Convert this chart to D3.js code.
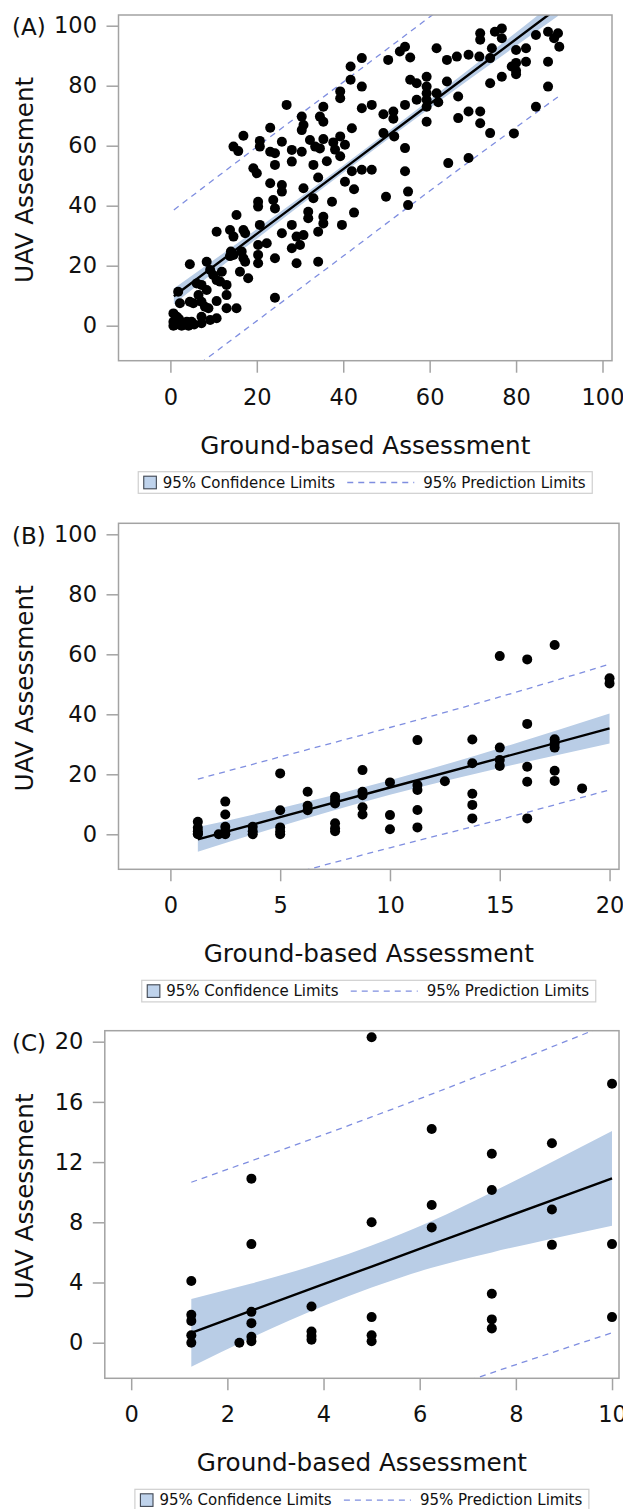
<!DOCTYPE html>
<html>
<head>
<meta charset="utf-8">
<script src="https://cdn.jsdelivr.net/npm/d3@7"></script>
<style>
  body { margin: 0; background: #fff; }
  svg text { font-family: "DejaVu Sans", sans-serif; fill: #111; }
</style>
</head>
<body>
<script>
// ---- panel A: all plots ----
const pointsA = [
  [71.7,97.5],[71.7,95.3],[75.1,98],[76.7,99.1],[76.7,95.8],[74.4,92.5],[61.6,92.5],[54.3,93],[53.1,91.4],
  [55.5,89.4],[50.4,88.6],[44.3,89.2],[41.7,86.4],[41.7,82],[44.3,79.7],[39.3,78.1],[39.3,75.8],[35.4,73],
  [35.4,68],[44.3,72.5],[46.6,73.6],[49.3,70.5],[51.6,71.4],[51.6,69],[54.3,73.6],[55.5,82],[57,80.8],
  [59.3,83],[59.3,79.7],[59.3,77.5],[59.3,75.3],[59.3,73],[59.3,68],[57,75.3],[61.6,77.5],[62,74.5],
  [64,81.4],[64,88.6],[66.3,89.7],[69,90.3],[71.5,89.7],[74,89.2],[79,86.4],[76.7,83],[74,80.8],
  [66.6,76.4],[66.6,69.2],[69,71.4],[71.7,71.4],[71.7,67.5],[74,64.2],[79.5,64.1],[64.3,54.2],[69,55.9],
  [49.3,64.2],[51.8,63.1],[54.3,59.2],[39.3,63.1],[40.4,60.3],[42,65.8],[37.7,61.1],[38.1,58.7],
  [39.3,56.5],[35.4,62.2],[42,51.5],[44.3,52],[46.6,52],[54.3,51.5],[36.2,54.8],
  [80,91.9],[82.3,92.5],[80,87.6],[80,85],[80,83.8],[82.3,88],[84.6,96.9],[87.4,98],[89.7,97.5],
  [88.8,95.8],[90,93],[87.4,88],[87.4,79.7],[84.6,73],
  [26.9,73.6],[16.9,63.3],[14.6,59.7],[15.7,58.2],[23.1,66],[20.7,61.6],[20.7,59.7],[25.8,61.3],
  [23.1,58],[24.2,57.5],[24.2,53.6],[28.1,58.6],[28.1,54.7],[30.4,69.7],[30.8,66.9],[30.4,65.2],
  [30.4,58],[32.3,61.9],[33.5,59.7],[34.6,59.1],[34.6,69.7],[33.1,53.6],[19.2,52.5],[20,50.8],[34.2,49.4],
  [23.1,47.5],[25.8,46.9],[25.8,44.7],[23.8,41.9],[20.3,41.3],[20.3,39.7],[24.2,39.1],[30.8,45.8],
  [33.1,42.5],[31.9,38],[31.9,35.8],[35.4,36.3],[35.4,34.1],[34.2,31.3],[34.2,21.3],[28.1,33.6],
  [25.8,30.8],[29.2,29.7],[30.8,30.2],[30,26.9],[28.1,25.8],[29.2,20.8],[20.7,33.6],[15.3,36.9],
  [16.9,31.9],[17.3,30.8],[13.8,31.9],[10.7,31.3],[14.6,29.7],[14,24.7],[14.6,23.6],[13.8,23.2],
  [16.5,24.7],[16.9,22.5],[17.3,21.3],[20.3,26.9],[22.3,27.5],[20.3,23.6],[20.3,20.8],[24.2,22.5],
  [16.1,18],[18,15.8],[4.5,20.5],[8.4,21.3],[9.2,18.6],[9.9,16.9],[11.9,18],[10.7,15.2],[11.5,14.7],
  [13,13.6],[6.1,14.1],[7.2,13.6],[8.4,11.9],[1.8,11.3],[2.2,7.5],[4.5,8],[5.3,7.5],[6.5,10.2],[7.2,8],
  [8,6.3],[10.7,8.2],[8.8,5.8],[13,10.2],[13,5.8],[15.3,5.8],[24.2,9.3],
  [0.7,4.1],[0.7,1.3],[2.2,1.3],[3.8,1.3],[4.9,1.3],[0.7,0],[2.6,0],[4.2,0],[7.2,3],[7.2,0.8],
  [9.2,1.9],[10.7,2.5],[1.5,3],[1.2,0.3],[3.2,0.6],[5.5,0.4],[2,2.2],
  [39.7,33.6],[42.5,37.7],[49.9,43],[55,44.7],[55,40.2],[37.4,41.3],[42.5,45.5],[40.4,48]
];
const fitAx = [0.8, 20, 40, 60, 89.7];
const fitAy = [9.8, 30.6, 52.2, 73.9, 106.0];
const clAlo = [7.2, 29.0, 51.0, 72.5, 103.2];
const clAhi = [12.4, 32.2, 53.4, 75.3, 108.8];
const plAlo = [-19.2, 1.6, 23.2, 44.9, 76.3];
const plAhi = [38.6, 59.6, 81.2, 102.9, 135.0];

// ---- panel B ----
const pointsB = [
  [1.25,4.2],[1.25,2.2],[1.25,1],[1.25,0.3],[1.25,0],
  [2.2,0],[2.5,10.9],[2.5,6.6],[2.5,2.5],[2.5,0.9],[2.5,0],
  [3.75,2.5],[3.75,1],[3.75,0],
  [5,20.3],[5,8],[5,2.3],[5,0.9],[5,0],
  [6.25,14.2],[6.25,9.5],[6.25,8],
  [7.5,12.5],[7.5,11.4],[7.5,10.3],[7.5,3.7],[7.5,2],[7.5,1],
  [8.75,21.4],[8.75,14.2],[8.75,13],[8.75,9],[8.75,6.6],
  [10,17.3],[10,6.4],[10,1.7],
  [11.25,31.4],[11.25,16.4],[11.25,14.8],[11.25,8.1],[11.25,2.3],
  [12.5,17.7],
  [13.75,31.6],[13.75,23.7],[13.75,13.5],[13.75,9.8],[13.75,5.3],
  [15,59.4],[15,28.9],[15,24.8],[15,22.8],
  [16.25,58.3],[16.25,36.8],[16.25,22.5],[16.25,17.5],[16.25,5.3],
  [17.5,63.1],[17.5,31.7],[17.5,30.3],[17.5,28.9],[17.5,21.2],[17.5,17.8],
  [18.75,15.3],
  [20,52],[20,50.3]
];
const fitBx = [1.25, 5, 10, 15, 20];
const fitBy = [-1.7, 5.7, 15.6, 25.4, 35.3];
const clBlo = [-5.8, 2.7, 13.2, 22.1, 30.3];
const clBhi = [2.4, 8.7, 18.0, 28.7, 40.3];
const plBlo = [-22.3, -14.3, -4.5, 4.9, 14.8];
const plBhi = [18.4, 25.8, 35.6, 45.8, 56.7];

// ---- panel C ----
const pointsC = [
  [5,20.3],[10,17.2],[6.25,14.2],[8.75,13.25],[7.5,12.55],[2.5,10.9],[7.5,10.15],[6.25,9.15],
  [8.75,8.85],[5,8],[6.25,7.65],[2.5,6.55],[8.75,6.5],[10,6.55],[1.25,4.1],[7.5,3.25],[3.75,2.4],
  [2.5,2.05],[1.25,1.85],[1.25,1.45],[5,1.7],[10,1.7],[7.5,1.55],[2.5,1.3],[7.5,0.95],[3.75,0.75],
  [3.75,0.45],[3.75,0.2],[1.25,0.5],[1.25,0],[2.25,0],[2.5,0.4],[2.5,0.1],[5,0.5],[5,0.1]
];
const fitCx = [1.25, 2.5, 4, 5, 6.25, 7.5, 8.75, 10];
const fitCy = [0.66, 2.13, 3.89, 5.06, 6.53, 8.0, 9.46, 10.92];
const clClo = [-1.59, 0.33, 2.44, 3.66, 4.98, 6.0, 6.91, 7.77];
const clChi = [2.91, 3.93, 5.34, 6.46, 8.08, 10.0, 12.01, 14.07];
const plCx = [1.25, 5, 10];
const plClo = [-9.4, -4.8, 0.66];
const plChi = [10.66, 15.0, 21.25];

const ticksA = [0, 20, 40, 60, 80, 100];
const ticksBx = [0, 5, 10, 15, 20];
const ticksCx = [0, 2, 4, 6, 8, 10];
const ticksCy = [0, 4, 8, 12, 16, 20];

const xTitle = 'Ground-based Assessment';
const yTitle = 'UAV Assessment';
const legendCL = '95% Confidence Limits';
const legendPL = '95% Prediction Limits';

const bandFill = '#b9cde6';
const dashColor = '#7f8ee0';
const frameColor = '#a3a3a3';

const svg = d3.select('body').append('svg')
  .attr('width', 623)
  .attr('height', 1509);

const panels = [
  { id: 'A', label: '(A)', left: 118.5, right: 612, top: 15, bottom: 360.7,
    xDom: [-12.01, 102.2], yDom: [-11.67, 103.57], xTicks: ticksA, yTicks: ticksA,
    points: pointsA, fitX: fitAx, fitY: fitAy, clX: fitAx, clLo: clAlo, clHi: clAhi,
    plX: fitAx, plLo: plAlo, plHi: plAhi },
  { id: 'B', label: '(B)', left: 118.5, right: 619, top: 523.3, bottom: 869.3,
    xDom: [-2.363, 20.43], yDom: [-11.67, 103.67], xTicks: ticksBx, yTicks: ticksA,
    points: pointsB, fitX: fitBx, fitY: fitBy, clX: fitBx, clLo: clBlo, clHi: clBhi,
    plX: fitBx, plLo: plBlo, plHi: plBhi },
  { id: 'C', label: '(C)', left: 104.8, right: 619, top: 1030.7, bottom: 1378.3,
    xDom: [-0.549, 10.145], yDom: [-2.365, 20.73], xTicks: ticksCx, yTicks: ticksCy,
    points: pointsC, fitX: fitCx, fitY: fitCy, clX: fitCx, clLo: clClo, clHi: clChi,
    plX: plCx, plLo: plClo, plHi: plChi }
];

panels.forEach(drawPanel);

function drawPanel(p) {
  const x = d3.scaleLinear().domain(p.xDom).range([p.left, p.right]);
  const y = d3.scaleLinear().domain(p.yDom).range([p.bottom, p.top]);
  const g = svg.append('g');

  g.append('clipPath').attr('id', 'clip' + p.id)
    .append('rect')
    .attr('x', p.left).attr('y', p.top)
    .attr('width', p.right - p.left).attr('height', p.bottom - p.top);

  const plot = g.append('g').attr('clip-path', 'url(#clip' + p.id + ')');

  // confidence band
  const band = d3.area()
    .x((d, i) => x(p.clX[i]))
    .y0((d, i) => y(p.clLo[i]))
    .y1((d, i) => y(p.clHi[i]))
    .curve(d3.curveMonotoneX);
  plot.append('path')
    .attr('d', band(p.clX))
    .attr('fill', bandFill);

  // prediction limits
  const plLine = arr => d3.line()
    .x((d, i) => x(p.plX[i]))
    .y((d, i) => y(arr[i]))
    .curve(d3.curveMonotoneX)(p.plX);
  [p.plLo, p.plHi].forEach(arr => {
    plot.append('path')
      .attr('d', plLine(arr))
      .attr('fill', 'none')
      .attr('stroke', dashColor)
      .attr('stroke-width', 1.3)
      .attr('stroke-dasharray', '6,5');
  });

  // fit line
  plot.append('path')
    .attr('d', d3.line().x((d, i) => x(p.fitX[i])).y((d, i) => y(p.fitY[i]))(p.fitX))
    .attr('fill', 'none')
    .attr('stroke', '#000')
    .attr('stroke-width', 2.4);

  // points
  g.append('g').selectAll('circle')
    .data(p.points)
    .enter().append('circle')
    .attr('cx', d => x(d[0]))
    .attr('cy', d => y(d[1]))
    .attr('r', 5)
    .attr('fill', '#000');

  // frame
  g.append('rect')
    .attr('x', p.left).attr('y', p.top)
    .attr('width', p.right - p.left).attr('height', p.bottom - p.top)
    .attr('fill', 'none')
    .attr('stroke', frameColor)
    .attr('stroke-width', 1.5);

  // axes
  const ax = g.append('g')
    .attr('transform', `translate(0,${p.bottom})`)
    .call(d3.axisBottom(x).tickValues(p.xTicks).tickSize(12).tickSizeOuter(0).tickPadding(16));
  const ay = g.append('g')
    .attr('transform', `translate(${p.left},0)`)
    .call(d3.axisLeft(y).tickValues(p.yTicks).tickSize(12).tickSizeOuter(0).tickPadding(9.5));
  [ax, ay].forEach(a => {
    a.select('.domain').remove();
    a.selectAll('line').attr('stroke', frameColor).attr('stroke-width', 1.5);
    a.selectAll('text').attr('font-size', 22.5).attr('fill', '#111')
      .style('font-family', '"DejaVu Sans", sans-serif');
  });

  const cx = (p.left + p.right) / 2;
  const cy = (p.top + p.bottom) / 2;

  // titles
  g.append('text')
    .attr('x', cx).attr('y', p.bottom + 84.3)
    .attr('dy', '0.36em')
    .attr('text-anchor', 'middle')
    .attr('font-size', 24.7)
    .text(xTitle);
  g.append('text')
    .attr('transform', `translate(24,${cy - 8}) rotate(-90)`)
    .attr('dy', '0.36em')
    .attr('text-anchor', 'middle')
    .attr('font-size', 24.7)
    .text(yTitle);

  // panel label
  g.append('text')
    .attr('x', 12).attr('y', y(p.yTicks[p.yTicks.length - 1]) + 1)
    .attr('dy', '0.36em')
    .attr('font-size', 23)
    .text(p.label);

  // legend
  const lw = 454, lh = 21.6;
  const lx = cx - lw / 2, ly = p.bottom + 111;
  const lg = g.append('g').attr('transform', `translate(${lx},${ly})`);
  lg.append('rect')
    .attr('width', lw).attr('height', lh)
    .attr('fill', '#fff')
    .attr('stroke', '#cfcfcf')
    .attr('stroke-width', 1.2);
  lg.append('rect')
    .attr('x', 5.5).attr('y', lh / 2 - 6.3)
    .attr('width', 12.6).attr('height', 12.6)
    .attr('fill', '#bfd3ec')
    .attr('stroke', '#3f4652')
    .attr('stroke-width', 1.1);
  lg.append('text')
    .attr('x', 24.5).attr('y', lh / 2).attr('dy', '0.36em')
    .attr('font-size', 15)
    .text(legendCL);
  lg.append('line')
    .attr('x1', 209).attr('x2', 276)
    .attr('y1', lh / 2).attr('y2', lh / 2)
    .attr('stroke', dashColor)
    .attr('stroke-width', 1.3)
    .attr('stroke-dasharray', '6,5');
  lg.append('text')
    .attr('x', 285).attr('y', lh / 2).attr('dy', '0.36em')
    .attr('font-size', 15)
    .text(legendPL);
}
</script>
</body>
</html>
